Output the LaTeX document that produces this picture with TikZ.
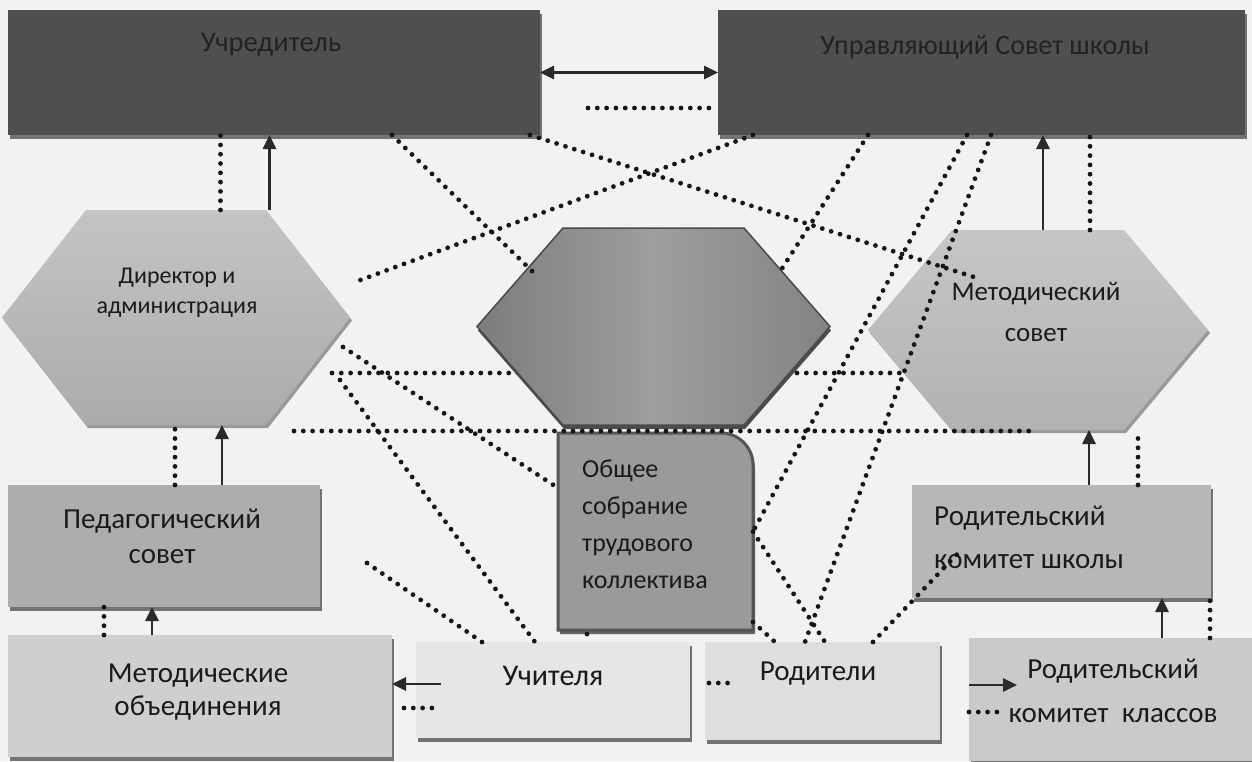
\documentclass[tikz,border=0pt]{standalone}
\usepackage{fontspec}
\setmainfont{Carlito}
\usetikzlibrary{arrows.meta,shadows}
\pgfdeclarelayer{back}
\pgfdeclarelayer{hexes}
\pgfsetlayers{back,hexes,main}
\definecolor{bgc}{HTML}{F2F2F2}
\definecolor{darkbox}{HTML}{4F4F4F}
\definecolor{darktxt}{HTML}{222222}
\definecolor{txtc}{HTML}{1A1A1A}
\definecolor{dotc}{HTML}{161616}
\definecolor{arrc}{HTML}{2A2A2A}
\definecolor{pedc}{HTML}{ADADAD}
\definecolor{obsc}{HTML}{9A9A9A}
\definecolor{obsborder}{HTML}{555555}
\definecolor{rksc}{HTML}{B7B7B7}
\definecolor{mobc}{HTML}{CFCFCF}
\definecolor{uchitc}{HTML}{E6E6E6}
\definecolor{rodc}{HTML}{DEDEDE}
\definecolor{rkkc}{HTML}{CACACA}
\definecolor{dirtop}{HTML}{C4C4C4}
\definecolor{dirbot}{HTML}{ABABAB}
\definecolor{metop}{HTML}{C6C6C6}
\definecolor{metbot}{HTML}{B2B2B2}
\definecolor{cenl}{HTML}{7C7C7C}
\definecolor{cenm}{HTML}{9E9E9E}
\definecolor{cenr}{HTML}{838383}
\definecolor{cenborder}{HTML}{4A4A4A}
\newcommand\fs[2]{\fontsize{#1}{#2}\selectfont}
\newcommand\hexof[3]{([shift={#3}]#1.west) -- ([shift={#3},xshift=#2]#1.north west) -- ([shift={#3},xshift=-#2]#1.north east) -- ([shift={#3}]#1.east) -- ([shift={#3},xshift=-#2]#1.south east) -- ([shift={#3},xshift=#2]#1.south west) -- cycle}
\begin{document}
\begin{tikzpicture}[x=1pt,y=-1pt,
  box/.style={inner sep=0pt, outer sep=0pt, draw=none},
  shbox/.style={box, drop shadow={shadow xshift=2pt, shadow yshift=-4pt, fill=black!55, opacity=1}},
  dots/.style={line width=4.8pt, dash pattern=on 0pt off 9.3pt, line cap=round, draw=dotc},
  arr/.style={line width=2.8pt, draw=arrc, -{Triangle[length=14pt,width=13pt]}},
  arrtwo/.style={line width=2.8pt, draw=arrc, {Triangle[length=14pt,width=13pt]}-{Triangle[length=14pt,width=13pt]}},
  lbl/.style={text=txtc, align=center, inner sep=0pt},
]
\useasboundingbox (0,0) rectangle (1252,761);
% hexagon frames
\node[box, minimum width=348pt, minimum height=215pt] (dir) at (176,317.5) {};
\node[box, minimum width=353pt, minimum height=197pt] (cen) at (653.5,326.5) {};
\node[box, minimum width=340pt, minimum height=200pt] (met) at (1038,330) {};
\coordinate (h1) at (332,373);
\coordinate (h2) at (983,373);
\begin{pgfonlayer}{back}
\fill[bgc] (0,0) rectangle (1252,761);
\draw[dots] (h1) -- (h2);
\end{pgfonlayer}
\begin{pgfonlayer}{hexes}
\fill[black!40] \hexof{dir}{84pt}{(2pt,-3pt)};
\path[top color=dirtop, bottom color=dirbot] \hexof{dir}{84pt}{(0pt,0pt)};
\fill[black!40] \hexof{met}{84pt}{(2pt,-3pt)};
\path[top color=metop, bottom color=metbot] \hexof{met}{84pt}{(0pt,0pt)};
\fill[black!70] \hexof{cen}{86pt}{(1pt,-4pt)};
\path[left color=cenl, right color=cenr, middle color=cenm, draw=cenborder, line width=1.5pt] \hexof{cen}{86pt}{(0pt,0pt)};
\end{pgfonlayer}
% boxes
\node[shbox, fill=darkbox, minimum width=532pt, minimum height=125pt] (uch) at (274,72.5) {};
\node[shbox, fill=darkbox, minimum width=527pt, minimum height=125pt] (upr) at (981.5,72.5) {};
\node[shbox, fill=pedc, minimum width=312pt, minimum height=122pt] (ped) at (164,546) {};
\node[shbox, fill=rksc, minimum width=299pt, minimum height=113pt] (rks) at (1061.5,541.5) {};
\node[shbox, fill=mobc, minimum width=384pt, minimum height=122pt] (mob) at (200,696) {};
\node[shbox, fill=uchitc, minimum width=274pt, minimum height=96pt] (uchit) at (553,690) {};
\node[shbox, fill=rodc, minimum width=235pt, minimum height=98pt] (rod) at (822.5,691) {};
\node[shbox, fill=rkkc, minimum width=283pt, minimum height=123pt] (rkk) at (1110.5,699.5) {};
\node[box, minimum width=195pt, minimum height=197pt] (obs) at (655.5,531.5) {};
\fill[black!60] ([shift={(2pt,-4pt)}]obs.south west) -- ([shift={(2pt,-4pt)}]obs.north west) -- ([shift={(-30pt,-4pt)}]obs.north east) arc[start angle=90, end angle=0, radius=32pt] -- ([shift={(2pt,-4pt)}]obs.south east) -- cycle;
\draw[obsborder, line width=3pt, fill=obsc] (obs.south west) -- (obs.north west) -- ([xshift=-32pt]obs.north east) arc[start angle=90, end angle=0, radius=32pt] -- (obs.south east) -- cycle;
% texts
\node[lbl, text=darktxt, font=\fs{28.5}{32}] (uchT) at (271,45) {Учредитель};
\node[lbl, text=darktxt, font=\fs{28}{32}] (uprT) at (985,47) {Управляющий Совет школы};
\node[lbl, font=\fs{24}{30}] (dirT) at (177,293) {Директор и\\администрация};
\node[lbl, font=\fs{27}{41}] (metT) at (1036,312) {Методический\\совет};
\node[lbl, font=\fs{29}{35}] (pedT) at (162,536) {Педагогический\\совет};
\node[lbl, align=left, anchor=west, font=\fs{26}{37}] (obsT) at (582,524) {Общее\\собрание\\трудового\\коллектива};
\node[lbl, font=\fs{29}{33}] (mobT) at (198,692) {Методические\\объединения};
\node[lbl, font=\fs{30}{36}] (uchitT) at (553,676) {Учителя};
\node[lbl, font=\fs{29}{36}] (rodT) at (818,674) {Родители};
\node[lbl, align=left, anchor=west, font=\fs{29}{43}] (rksT) at (934,537) {Родительский\\комитет школы};
\node[lbl, font=\fs{29}{44}] (rkkT) at (1113,691) {Родительский\\комитет~~классов};
% solid arrows with dotted companions
\draw[arrtwo] (uch.east) -- (upr.west);
\draw[dots] ([shift={(-130pt,-35.5pt)}]upr.west) -- ([yshift=-35.5pt]upr.west);
\draw[arr] ([xshift=93.5pt]dir.north) coordinate (t1) -- (t1 |- uch.south);
\draw[dots] ([xshift=44.5pt]dir.north) coordinate (t2) -- (t2 |- uch.south);
\draw[arr] ([xshift=58pt]ped.north) coordinate (t3) -- (t3 |- dir.south);
\draw[dots] ([xshift=11pt]ped.north) coordinate (t4) -- (t4 |- dir.south);
\draw[arr] ([xshift=-48pt]mob.north) coordinate (t5) -- (t5 |- ped.south);
\draw[dots] ([xshift=-96pt]mob.north) coordinate (t6) -- (t6 |- ped.south);
\draw[arr] ([xshift=5pt]met.north) coordinate (t7) -- (t7 |- upr.south);
\draw[dots] ([xshift=52pt]met.north) coordinate (t8) -- (t8 |- upr.south);
\draw[arr] ([xshift=27.5pt]rks.north) coordinate (t9) -- (t9 |- met.south);
\draw[dots] ([xshift=76.5pt]rks.north) coordinate (t10) -- (t10 |- met.south);
\draw[arr] ([xshift=51.5pt]rkk.north) coordinate (t11) -- (t11 |- rks.south);
\draw[dots] ([xshift=99.5pt]rkk.north) coordinate (t12) -- (t12 |- rks.south);
\draw[arr] ([shift={(25pt,6pt)}]uchit.west) coordinate (t13) -- (t13 -| mob.east);
\draw[dots] ([shift={(-12pt,-18pt)}]uchit.west) -- ([shift={(19pt,-18pt)}]uchit.west);
\draw[arr] ([yshift=14.5pt]rkk.west) -- ([shift={(48pt,14.5pt)}]rkk.west);
\draw[dots] ([yshift=-12.5pt]rkk.west) -- ([shift={(31pt,-12.5pt)}]rkk.west);
\draw[dots] ([shift={(4pt,8pt)}]rod.west) -- ([shift={(26pt,8pt)}]rod.west);
% dotted cross connections
\coordinate (b2) at (533,272);
\coordinate (c2) at (977,278);
\coordinate (d2) at (355,282);
\coordinate (e2) at (781,270);
\coordinate (f1) at (343,347);
\coordinate (g1) at (340,380);
\coordinate (k1) at (367,563);
\coordinate (i1) at (294,431);
\coordinate (i2) at (1037,431);
\draw[dots] ([xshift=384pt]uch.south west) -- (b2);
\draw[dots] ([xshift=522pt]uch.south west) -- (c2);
\draw[dots] ([xshift=35pt]upr.south west) -- (d2);
\draw[dots] ([xshift=150pt]upr.south west) -- (e2);
\draw[dots] ([xshift=249pt]upr.south west) -- (obs.east);
\draw[dots] ([xshift=273pt]upr.south west) -- ([xshift=100pt]rod.north west);
\draw[dots] (obs.east) -- ([xshift=120pt]rod.north west);
\draw[dots] ([xshift=168pt]rod.north west) -- ([shift={(51pt,-63pt)}]rks.north west);
\draw[dots] ([yshift=8pt]obs.south east) -- ([xshift=70pt]rod.north west);
\draw[dots] (f1) -- ([yshift=43.5pt]obs.west);
\draw[dots] (g1) -- ([xshift=119pt]uchit.north west);
\draw[dots] (k1) -- ([xshift=66pt]uchit.north west);
\draw[dots] ([xshift=29pt,yshift=-4pt]obs.south west) -- ([xshift=171pt]uchit.north west);
\draw[dots] (i1) -- (i2);
\end{tikzpicture}
\end{document}
